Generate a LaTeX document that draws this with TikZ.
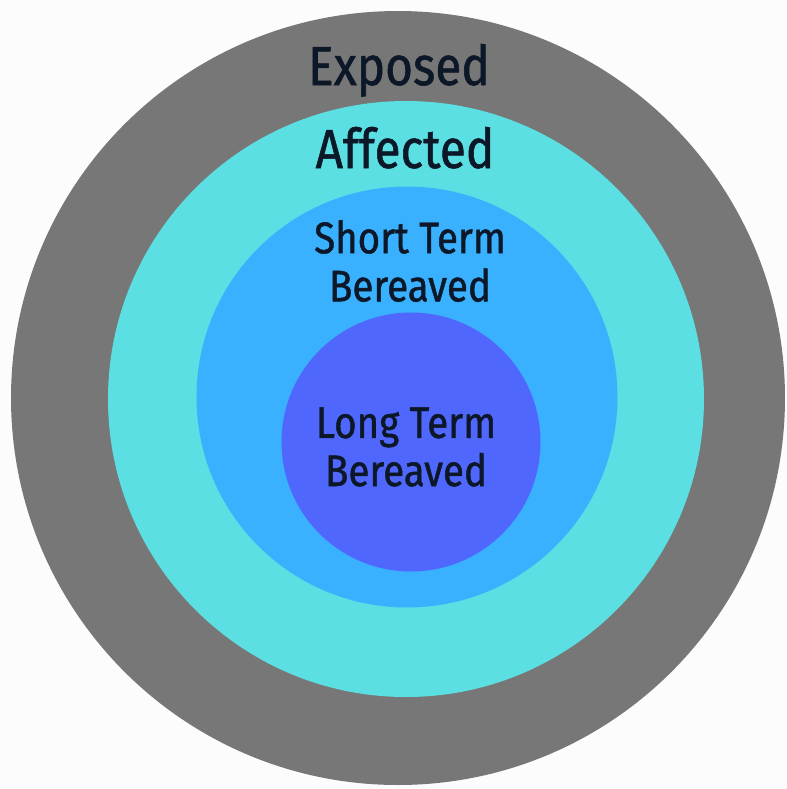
\documentclass[tikz,border=0pt]{standalone}
\usepackage{fontspec}
\usepackage{xcolor}
\usepackage{tikz}
\newfontfamily\ringfont{Fira Sans}[FakeStretch=0.87,FakeBold=1]
\definecolor{ringgray}{HTML}{777777}
\definecolor{ringcyan}{HTML}{5BDFE2}
\definecolor{ringblue}{HTML}{3AB1FE}
\definecolor{ringviolet}{HTML}{5067FD}
\definecolor{ringtext}{HTML}{0C1828}

\begin{document}
\begin{tikzpicture}[
  x=0.1mm, y=-0.1mm,
  ring/.style={circle, draw=none, inner sep=0pt},
  big/.style ={font=\ringfont\fontsize{15.6pt}{18pt}\selectfont, text=ringtext, inner sep=0pt, anchor=base},
  small/.style={font=\ringfont\fontsize{12.6pt}{13.7pt}\selectfont, text=ringtext, inner sep=0pt, align=center},
]
  \fill[white!99!black] (0,0) rectangle (787,789);
  \useasboundingbox (0,0) rectangle (787,789);

  \node[ring, fill=ringgray,   minimum size=77.4mm] (exposed)   at (398,398) {};
  \node[ring, fill=ringcyan,   minimum size=59.6mm] (affected)  at (406,399) {};
  \node[ring, fill=ringblue,   minimum size=42.1mm] (shortterm) at (407,397) {};
  \node[ring, fill=ringviolet, minimum size=25.9mm] (longterm)  at (411,442) {};

  \node[big]   (exposedlbl)   at (399,85)  {Exposed};
  \node[big]   (affectedlbl)  at (405,168) {Affected};
  \node[small] (shortlbl)     at (410,261) {Short Term\\Bereaved};
  \node[small] (longlbl)      at (406,447) {Long Term\\Bereaved};
\end{tikzpicture}
\end{document}
